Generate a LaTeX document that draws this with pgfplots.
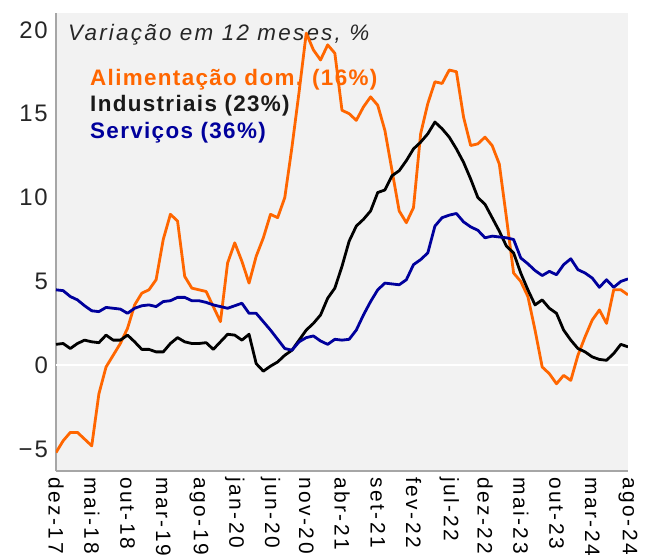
\documentclass[border=0pt]{standalone}
\usepackage{fontspec}
\setmainfont{Liberation Sans}[LetterSpace=6]
\newfontfamily\xtickfont{Liberation Sans}[LetterSpace=12]
\newfontfamily\ytickfont{Liberation Sans}[LetterSpace=8]
\newfontfamily\titlefont{Liberation Sans}[LetterSpace=10]
\usepackage{pgfplots}
\usepackage{pgfplotstable}
\pgfplotsset{compat=1.18}
\definecolor{cOrange}{HTML}{FF6600}
\definecolor{cBlue}{HTML}{00009C}
\definecolor{cBg}{HTML}{F2F2F2}
\definecolor{cAxis}{HTML}{A6A6A6}

\pgfplotstableread{
i alim ind serv
0 -5.2 1.25 4.5
1 -4.5 1.3 4.45
2 -4.0 1.0 4.1
3 -4.0 1.3 3.9
4 -4.4 1.5 3.55
5 -4.8 1.4 3.25
6 -1.7 1.35 3.2
7 -0.1 1.8 3.45
8 0.6 1.5 3.4
9 1.3 1.5 3.35
10 2.2 1.8 3.1
11 3.6 1.4 3.4
12 4.3 0.95 3.55
13 4.5 0.95 3.6
14 5.1 0.8 3.5
15 7.5 0.8 3.8
16 9.0 1.3 3.85
17 8.6 1.65 4.05
18 5.3 1.4 4.05
19 4.6 1.3 3.85
20 4.5 1.3 3.85
21 4.4 1.35 3.75
22 3.5 0.95 3.6
23 2.6 1.4 3.5
24 6.1 1.85 3.4
25 7.3 1.8 3.55
26 6.2 1.5 3.7
27 4.9 1.85 3.1
28 6.5 0.1 3.1
29 7.6 -0.35 2.6
30 9.0 -0.05 2.1
31 8.8 0.2 1.55
32 10.0 0.6 1.0
33 13.0 0.9 0.9
34 16.3 1.5 1.4
35 19.8 2.1 1.65
36 18.8 2.5 1.75
37 18.2 3.0 1.45
38 19.1 4.0 1.25
39 18.6 4.6 1.55
40 15.2 5.9 1.5
41 15.0 7.4 1.55
42 14.6 8.3 2.1
43 15.4 8.7 3.0
44 16.0 9.2 3.8
45 15.5 10.3 4.5
46 14.0 10.45 4.9
47 11.6 11.3 4.85
48 9.2 11.6 4.8
49 8.5 12.2 5.1
50 9.4 12.9 6.0
51 13.8 13.3 6.3
52 15.6 13.8 6.7
53 16.9 14.5 8.3
54 16.8 14.1 8.8
55 17.6 13.6 8.95
56 17.5 12.9 9.05
57 14.8 12.1 8.55
58 13.1 11.1 8.25
59 13.2 10.0 8.05
60 13.6 9.6 7.6
61 13.1 8.8 7.7
62 12.0 8.0 7.65
63 8.8 7.1 7.6
64 5.5 6.7 7.5
65 5.0 5.5 6.4
66 4.1 4.5 6.05
67 2.1 3.6 5.65
68 -0.1 3.9 5.35
69 -0.5 3.4 5.6
70 -1.1 3.1 5.4
71 -0.6 2.1 6.0
72 -0.9 1.5 6.35
73 0.6 1.0 5.7
74 1.7 0.8 5.5
75 2.7 0.5 5.2
76 3.3 0.35 4.65
77 2.5 0.3 5.1
78 4.5 0.7 4.65
79 4.5 1.25 5.0
80 4.2 1.1 5.15
}\data

\begin{document}
\begin{tikzpicture}
\useasboundingbox (-56bp,-87bp) rectangle (590bp,471bp);
\begin{axis}[
  at={(0,0)}, anchor=south west,
  scale only axis, width=572bp, height=458bp,
  xmin=0, xmax=80, ymin=-6.3, ymax=21,
  axis background/.style={fill=cBg},
  axis x line*=bottom, axis y line*=left,
  axis line style={cAxis, line width=1.5bp},
  xtick={0,5,...,80},
  xticklabels={dez-17,mai-18,out-18,mar-19,ago-19,jan-20,jun-20,nov-20,abr-21,set-21,fev-22,jul-22,dez-22,mai-23,out-23,mar-24,ago-24},
  x tick label style={rotate=-90, anchor=west, font=\xtickfont\fontsize{21}{21}\selectfont, text=black, inner sep=2bp},
  ytick={-5,0,5,10,15,20},
  yticklabels={−5,0,5,10,15,20},
  y tick label style={font=\ytickfont\fontsize{24}{24}\selectfont, text=black!85, inner sep=2bp},
  xticklabel shift=4bp, yticklabel shift=6bp,
  major tick length=0pt,
  /pgf/number format/assume math mode=true,
  extra y ticks={0},
  extra y tick labels={},
  extra y tick style={grid=major, major grid style={white, line width=2bp}},
]
\node[anchor=west, font=\titlefont\fontsize{22.5}{22.5}\selectfont\itshape, text=black!85, inner sep=0pt] at (rel axis cs:0.021,0.952) {Variação em 12 meses, \%};
\node[anchor=west, font=\fontsize{22.5}{22.5}\selectfont\bfseries, text=cOrange, inner sep=0pt] at (rel axis cs:0.0594,0.854) {Alimentação dom. (16\%)};
\node[anchor=west, font=\fontsize{22.5}{22.5}\selectfont\bfseries, text=black!90, inner sep=0pt] at (rel axis cs:0.0594,0.797) {Industriais (23\%)};
\node[anchor=west, font=\fontsize{22.5}{22.5}\selectfont\bfseries, text=cBlue, inner sep=0pt] at (rel axis cs:0.0594,0.738) {Serviços (36\%)};
\addplot[cOrange, line width=2.8bp, line join=round] table[x=i, y=alim] {\data};
\addplot[black, line width=2.8bp, line join=round] table[x=i, y=ind] {\data};
\addplot[cBlue, line width=2.8bp, line join=round] table[x=i, y=serv] {\data};
\end{axis}
\end{tikzpicture}
\end{document}
